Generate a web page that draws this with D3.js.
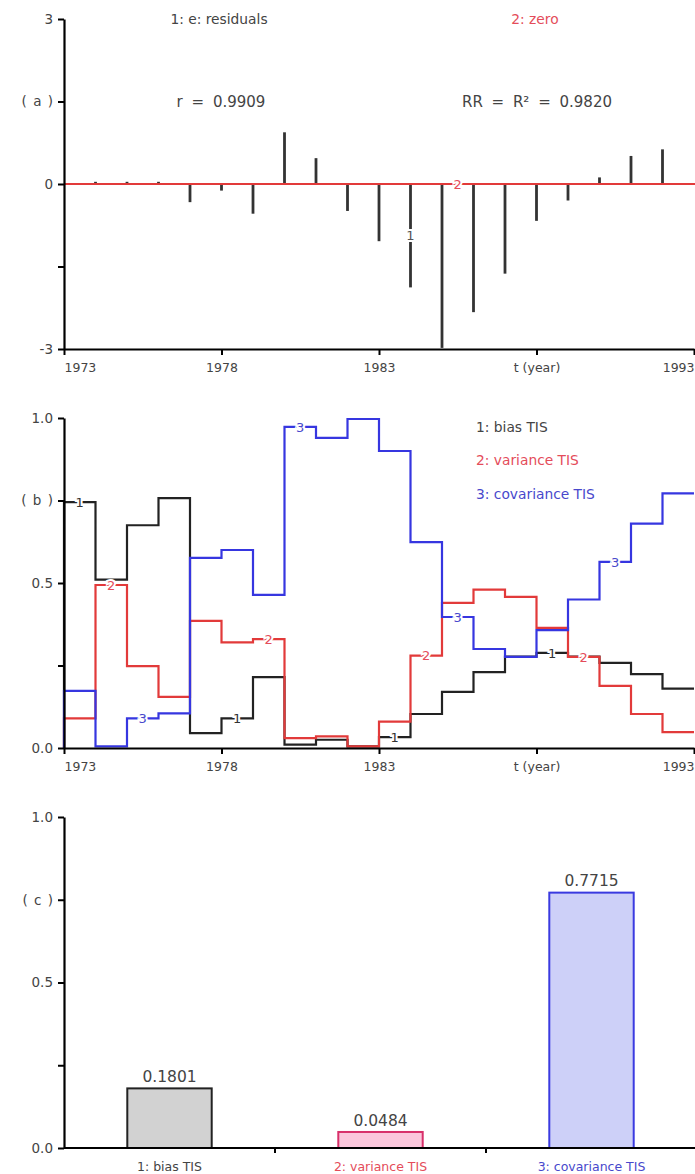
<!DOCTYPE html>
<html>
<head>
<meta charset="utf-8">
<script src="https://cdn.jsdelivr.net/npm/d3@7/dist/d3.min.js"></script>
<style>
  body { margin: 0; background: #fff; }
  svg { display: block; font-family: "DejaVu Sans", Verdana, sans-serif; }
</style>
</head>
<body>
<svg id="chart" width="695" height="1174"></svg>
<script>
// panel (a): residuals by year
var residualYears = [1974, 1975, 1976, 1977, 1978, 1979, 1980, 1981, 1982, 1983,
                     1984, 1985, 1986, 1987, 1988, 1989, 1990, 1991, 1992];
var residuals = [0.04, 0.04, 0.04, -0.33, -0.12, -0.54, 0.94, 0.47, -0.49, -1.04,
                 -1.88, -2.98, -2.33, -1.63, -0.67, -0.30, 0.12, 0.51, 0.63];

// panel (b): Theil inequality statistics, one step per year
var tisYears = [1973, 1974, 1975, 1976, 1977, 1978, 1979, 1980, 1981, 1982,
                1983, 1984, 1985, 1986, 1987, 1988, 1989, 1990, 1991, 1992];
var biasTIS = [0.745, 0.51, 0.675, 0.757, 0.045, 0.09, 0.215, 0.01, 0.025, 0.005,
               0.033, 0.103, 0.17, 0.23, 0.277, 0.288, 0.277, 0.258, 0.224, 0.1801];
var varianceTIS = [0.09, 0.494, 0.248, 0.155, 0.385, 0.32, 0.33, 0.03, 0.035, 0.005,
                   0.08, 0.28, 0.44, 0.48, 0.458, 0.364, 0.276, 0.188, 0.103, 0.0484];
var covarianceTIS = [0.173, 0.005, 0.09, 0.105, 0.576, 0.6, 0.464, 0.973, 0.94, 0.997,
                     0.9, 0.624, 0.397, 0.30, 0.276, 0.357, 0.45, 0.564, 0.68, 0.7715];

// panel (c): final values
var barCategories = ['1: bias TIS', '2: variance TIS', '3: covariance TIS'];
var barValues = [0.1801, 0.0484, 0.7715];

var yearTicks = [1973, 1978, 1983, 1988, 1993];
var endYear = 1993;

var red = '#e23a3a', blue = '#3636e0', dark = '#222';
var redText = '#e44c5a', blueText = '#4848cc', greyText = '#444';

var svg = d3.select('#chart');
var left = 64, right = 694;

var x = d3.scaleLinear().domain([1973, endYear]).range([left, right]);

function yearAxis(y, g) {
  g.attr('transform', `translate(0,${y})`)
   .call(d3.axisBottom(x).tickValues(yearTicks).tickSize(6).tickSizeOuter(0)
           .tickFormat(d => d == 1988 ? 't (year)' : d));
  styleAxis(g, 12.5);
  g.selectAll('.tick text')
   .attr('dy', '1.1em')
   .attr('text-anchor', (d, i) => i == 0 ? 'start' : (i == yearTicks.length - 1 ? 'end' : 'middle'))
   .attr('dx', (d, i) => i == yearTicks.length - 1 ? 0 : 0);
}

function styleAxis(g, size) {
  g.select('.domain').attr('stroke', '#000').attr('stroke-width', 2.2);
  g.selectAll('.tick line').attr('stroke', '#000').attr('stroke-width', 2);
  g.selectAll('.tick text').attr('fill', greyText).attr('font-size', size)
   .attr('font-family', '"DejaVu Sans", Verdana, sans-serif');
}

function valueAxis(y, vals, fmt) {
  var g = svg.append('g').attr('transform', `translate(${left},0)`)
    .call(d3.axisLeft(y).tickValues(vals).tickSize(6).tickSizeOuter(0).tickFormat(fmt));
  styleAxis(g, 13.5);
  g.selectAll('.tick text').attr('x', -11).attr('word-spacing', 2);
}

function lineLabel(px, py, txt, color) {
  svg.append('text').attr('x', px).attr('y', py).attr('dy', '0.36em')
     .attr('text-anchor', 'middle').attr('font-size', 13).attr('fill', color)
     .attr('stroke', '#fff').attr('stroke-width', 4).attr('paint-order', 'stroke')
     .text(txt);
}

function note(px, py, txt, color, size, anchor) {
  return svg.append('text').attr('x', px).attr('y', py).attr('dy', '0.36em')
     .attr('text-anchor', anchor || 'middle').attr('font-size', size).attr('fill', color)
     .text(txt);
}

// ---------- (a) residuals ----------
var ya = d3.scaleLinear().domain([-3, 3]).range([349, 19]);

svg.append('g').selectAll('line').data(residuals).enter().append('line')
   .attr('x1', (d, i) => x(residualYears[i])).attr('x2', (d, i) => x(residualYears[i]))
   .attr('y1', ya(0)).attr('y2', d => ya(d))
   .attr('stroke', '#333').attr('stroke-width', 2.8);

svg.append('line').attr('x1', left).attr('x2', 695).attr('y1', ya(0)).attr('y2', ya(0))
   .attr('stroke', red).attr('stroke-width', 2.2);

valueAxis(ya, [-3, -1.5, 0, 1.5, 3], d => d == 1.5 ? '( a )' : (d == -1.5 ? '' : d));
yearAxis(349, svg.append('g'));

lineLabel(x(1984), ya(residuals[10] / 2), '1', '#555');
lineLabel(x(1985.5), ya(0), '2', redText);

note(219, 19, '1: e: residuals', greyText, 13.8);
note(535, 19, '2: zero', redText, 13.8);
note(221, 102, 'r = 0.9909', greyText, 15).attr('word-spacing', 4);
note(537, 102, 'RR = R² = 0.9820', greyText, 15).attr('word-spacing', 4);

// ---------- (b) Theil statistics over time ----------
var yb = d3.scaleLinear().domain([0, 1]).range([748, 418]);

var step = d3.line().curve(d3.curveStepAfter).x(d => x(d[0])).y(d => yb(d[1]));

function stepPoints(vals) {
  // start from the axis, one step per year, close the last step at the end year
  var pts = [[tisYears[0], 0]];
  vals.forEach((v, i) => pts.push([tisYears[i], v]));
  pts.push([endYear, vals[vals.length - 1]]);
  return pts;
}

var seriesB = [
  { vals: biasTIS, color: dark, text: '#333', label: '1', first: 1973 },
  { vals: varianceTIS, color: red, text: redText, label: '2', first: 1974 },
  { vals: covarianceTIS, color: blue, text: blueText, label: '3', first: 1975 }
];

seriesB.forEach(function(s) {
  svg.append('path').attr('d', step(stepPoints(s.vals)))
     .attr('fill', 'none').attr('stroke', s.color).attr('stroke-width', 2.2);
});

valueAxis(yb, [0, 0.25, 0.5, 0.75, 1], d => d == 0.75 ? '( b )' : (d == 0.25 ? '' : d3.format('.1f')(d)));
yearAxis(748, svg.append('g'));

seriesB.forEach(function(s) {
  [0, 5, 10, 15].forEach(function(k) {
    var yr = s.first + k;
    var i = tisYears.indexOf(yr);
    lineLabel(x(yr + 0.5), yb(s.vals[i]), s.label, s.text);
  });
});

note(476, 427, '1: bias TIS', greyText, 13.8, 'start');
note(476, 460, '2: variance TIS', redText, 13.8, 'start');
note(476, 494, '3: covariance TIS', blueText, 13.8, 'start');

// ---------- (c) final Theil statistics ----------
var yc = d3.scaleLinear().domain([0, 1]).range([1148, 817]);
var xc = d3.scaleBand().domain(barCategories).range([left, 697]).paddingInner(0.6).paddingOuter(0.3);
var barFill = ['#d2d2d2', '#fbc7dc', '#cdd0f8'];
var barStroke = [dark, '#d8306a', '#3a3ae0'];
var catText = [greyText, redText, blueText];

svg.append('g').selectAll('rect').data(barValues).enter().append('rect')
   .attr('x', (d, i) => xc(barCategories[i])).attr('width', xc.bandwidth())
   .attr('y', d => yc(d)).attr('height', d => yc(0) - yc(d))
   .attr('fill', (d, i) => barFill[i]).attr('stroke', (d, i) => barStroke[i]).attr('stroke-width', 2);

svg.append('g').selectAll('text').data(barValues).enter().append('text')
   .attr('x', (d, i) => xc(barCategories[i]) + xc.bandwidth() / 2)
   .attr('y', d => yc(d) - 12).attr('dy', '0.36em').attr('text-anchor', 'middle')
   .attr('font-size', 15.5).attr('fill', greyText)
   .text(d => d3.format('.4f')(d));

valueAxis(yc, [0, 0.25, 0.5, 0.75, 1], d => d == 0.75 ? '( c )' : (d == 0.25 ? '' : d3.format('.1f')(d)));

var gc = svg.append('g').attr('transform', `translate(0,${yc(0)})`);
gc.append('line').attr('x1', left).attr('x2', 695).attr('stroke', '#000').attr('stroke-width', 2.2);
gc.selectAll('.sep').data(barCategories).enter().append('line')
  .attr('x1', d => xc(d) + xc.bandwidth() / 2 + xc.step() / 2)
  .attr('x2', d => xc(d) + xc.bandwidth() / 2 + xc.step() / 2)
  .attr('y1', 0).attr('y2', 5).attr('stroke', '#000').attr('stroke-width', 2);
gc.selectAll('text').data(barCategories).enter().append('text')
  .attr('x', d => xc(d) + xc.bandwidth() / 2).attr('y', 18).attr('dy', '0.36em')
  .attr('text-anchor', 'middle').attr('font-size', 12.5)
  .attr('fill', (d, i) => catText[i]).text(d => d);
</script>
</body>
</html>
